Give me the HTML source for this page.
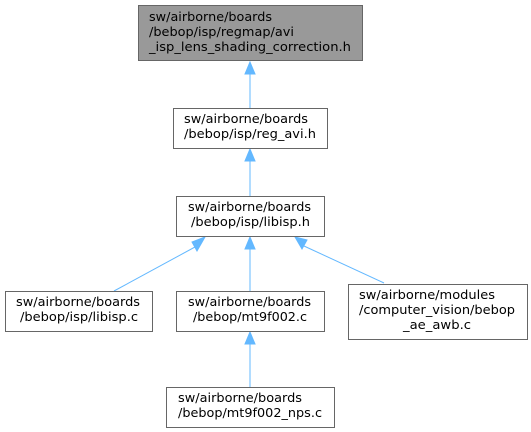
<!DOCTYPE html>
<html><head><style>
html,body{margin:0;padding:0;background:#fff;width:531px;height:432px;overflow:hidden}
text{font-family:"DejaVu Sans","Liberation Sans",sans-serif;font-size:12.3px;fill:#000}
</style></head><body>
<svg width="531" height="432" xmlns="http://www.w3.org/2000/svg">
<g fill="none" stroke="#63b8ff" stroke-width="1">
<line x1="250" y1="108" x2="250" y2="72"/>
<line x1="250" y1="196" x2="250" y2="160"/>
<line x1="250" y1="291" x2="250" y2="248"/>
<line x1="250" y1="387" x2="250" y2="343"/>
<line x1="114" y1="291" x2="195" y2="247"/>
<line x1="384" y1="283" x2="304" y2="246"/>
</g>
<g fill="#63b8ff" stroke="#63b8ff">
<polygon points="250,62 245,74 255,74"/>
<polygon points="250,149 245,161 255,161"/>
<polygon points="250,237 245,249 255,249"/>
<polygon points="250,332 245,344 255,344"/>
<polygon points="205,237 192,242 197,251"/>
<polygon points="295,237 302,249 307,240"/>
</g>
<g stroke="#666" stroke-width="1">
<rect x="138.5" y="5.5" width="224" height="55" fill="#999"/>
<rect x="173.5" y="108.5" width="154" height="40" fill="#fff"/>
<rect x="176.5" y="196.5" width="148" height="40" fill="#fff"/>
<rect x="5.5" y="291.5" width="147" height="40" fill="#fff"/>
<rect x="176.5" y="291.5" width="148" height="40" fill="#fff"/>
<rect x="348.5" y="284.5" width="179" height="55" fill="#fff"/>
<rect x="166.5" y="387.5" width="168" height="40" fill="#fff"/>
</g>
<text x="149" y="21" textLength="123" lengthAdjust="spacingAndGlyphs">sw/airborne/boards</text>
<text x="149" y="36" textLength="145" lengthAdjust="spacingAndGlyphs">/bebop/isp/regmap/avi</text>
<text x="149" y="51" textLength="202" lengthAdjust="spacingAndGlyphs">_isp_lens_shading_correction.h</text>
<text x="184" y="123" textLength="124" lengthAdjust="spacingAndGlyphs">sw/airborne/boards</text>
<text x="184" y="138" textLength="132" lengthAdjust="spacingAndGlyphs">/bebop/isp/reg_avi.h</text>
<text x="188" y="211" textLength="123" lengthAdjust="spacingAndGlyphs">sw/airborne/boards</text>
<text x="191" y="226" textLength="119" lengthAdjust="spacingAndGlyphs">/bebop/isp/libisp.h</text>
<text x="16" y="306" textLength="124" lengthAdjust="spacingAndGlyphs">sw/airborne/boards</text>
<text x="20" y="321" textLength="118" lengthAdjust="spacingAndGlyphs">/bebop/isp/libisp.c</text>
<text x="188" y="306" textLength="123" lengthAdjust="spacingAndGlyphs">sw/airborne/boards</text>
<text x="193" y="321" textLength="114" lengthAdjust="spacingAndGlyphs">/bebop/mt9f002.c</text>
<text x="359" y="299" textLength="136" lengthAdjust="spacingAndGlyphs">sw/airborne/modules</text>
<text x="359" y="314" textLength="156" lengthAdjust="spacingAndGlyphs">/computer_vision/bebop</text>
<text x="403" y="329" textLength="68" lengthAdjust="spacingAndGlyphs">_ae_awb.c</text>
<text x="178" y="402" textLength="124" lengthAdjust="spacingAndGlyphs">sw/airborne/boards</text>
<text x="178" y="417" textLength="144" lengthAdjust="spacingAndGlyphs">/bebop/mt9f002_nps.c</text>
</svg>
</body></html>
